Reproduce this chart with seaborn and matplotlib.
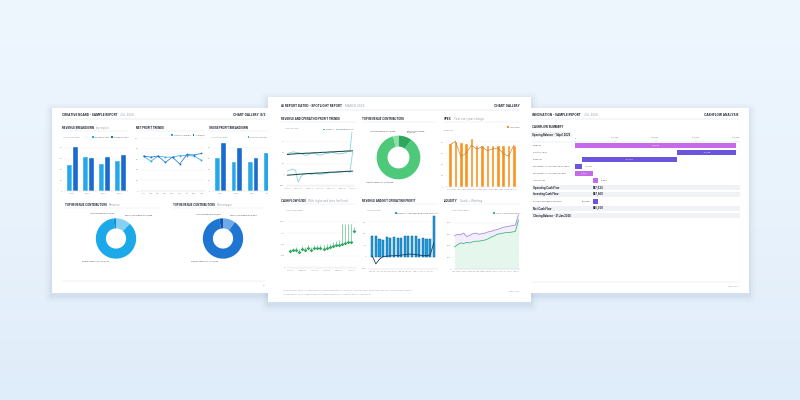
import numpy as np
import pandas as pd
import matplotlib
matplotlib.use("Agg")
import matplotlib.pyplot as plt
from matplotlib.colors import LinearSegmentedColormap
from matplotlib.patches import FancyBboxPatch, Patch
import seaborn as sns

# ---------------- left page data ----------------
rb_years = ["2021", "2022", "2023", "2024"]
rb_light = [51, 66, 53, 58]
rb_dark = [84, 63, 66, 69]
rb_series = ["Revenue 2023", "Revenue 2024"]

np_months = ["Jan", "Feb", "Mar", "Apr", "May", "Jun", "Jul", "Aug", "Sep"]
np_light = [66, 56, 66, 64, 64, 67, 67, 66, 58]
np_dark = [66, 64, 66, 54, 64, 51, 69, 68, 71]
np_series = ["Net Profit Margin", "% Growth"]

gp_years = ["2021", "2022", "2023", "2024"]
gp_light = [64, 56, 56, 72]
gp_dark = [91, 81, 64, 80]
gp_series = ["Gross Profit 2023", "2024"]

d1_labels = ["Recurring Revenue $380,000", "Product Revenue $2,960,000", "Service Revenue $90,000"]
d1_values = [12, 86, 2]
d2_labels = ["Recurring Revenue $410,000", "Product Revenue $3,420,000", "Service Revenue $120,000"]
d2_values = [10, 87, 3]

# ---------------- centre page data ----------------
p1_months = ["Jan 19", "Feb 19", "Mar 19", "Apr 19", "May 19", "Jun 19", "Jul 19", "Aug 19",
             "Sep 19", "Oct 19", "Nov 19", "Dec 19", "Jan 20", "Feb 20", "Mar 20", "Apr 20",
             "May 20", "Jun 20", "Jul 20", "Aug 20", "Sep 20", "Oct 20", "Nov 20", "Dec 20", "Jan 21"]
p1_rev_trend = [46, 46.5, 47, 47.5, 48, 48, 48.5, 49, 49, 49.5, 50, 50, 50.5, 51, 51, 51.5,
                52, 52, 52.5, 53, 53, 53.5, 54, 54, 54.5]
p1_rev = [48, 50, 52, 51, 50, 49, 45, 44, 47, 49, 48, 46, 44, 46, 48, 49,
          50, 51, 48, 47, 48, 49, 52, 54, 112]
p1_op_trend = [-2, -1.5, -1, -0.5, 0, 0.5, 1, 1.5, 2, 2, 2.5, 3, 3, 3.5, 4, 4.5,
               5, 5, 5.5, 6, 6, 6.5, 7, 7, 7.5]
p1_op = [8, 10, 12, 9, -18, -5, 0, 2, 1, 0, 2, 1, 0, 1, 2, 3,
         4, 5, 4, 5, 6, 7, 6, 5, 52]

top_labels = ["Recurring Revenue\n$520,000", "Product Revenue $4,800,000", "Service Revenue $480,000"]
top_values = [10, 86, 4]

opex_months = ["Mar 24", "Apr 24", "May 24", "Jun 24", "Jul 24", "Aug 24", "Sep 24",
               "Oct 24", "Nov 24", "Dec 24", "Jan 25", "Feb 25", "Mar 25"]
opex_total = [78, 82, 80, 78, 88, 76, 76, 76, 76, 76, 76, 76, 76]
opex_change = [76, 82, 55, 60, 75, 68, 72, 65, 68, 70, 60, 55, 75]

cf_months = ["Oct 19", "Nov 19", "Dec 19", "Jan 20", "Feb 20", "Mar 20", "Apr 20", "May 20",
             "Jun 20", "Jul 20", "Aug 20", "Sep 20", "Oct 20", "Nov 20", "Dec 20", "Jan 21",
             "Feb 21", "Mar 21", "Apr 21", "May 21", "Jun 21", "Jul 21"]
cf_close = [355, 370, 390, 330, 400, 380, 420, 370, 420, 420, 420, 410,
            430, 440, 470, 480, 500, 520, 540, 560, 565, 800]
cf_high = [400, 430, 450, 400, 460, 440, 480, 440, 490, 490, 500, 500,
           510, 520, 560, 580, 600, 960, 960, 960, 960, 880]

rn_months = ["Jan 20", "Feb 20", "Mar 20", "Apr 20", "May 20", "Jun 20", "Jul 20", "Aug 20", "Sep 20",
             "Oct 20", "Nov 20", "Dec 20", "Jan 21", "Feb 21", "Mar 21", "Apr 21", "May 21", "Jun 21"]
rn_revenue = [92, 92, 78, 72, 85, 80, 84, 82, 82, 90, 92, 92, 92, 78, 80, 76, 78, 175]
rn_profit = [5, -30, -10, 2, 3, 5, 5, 6, 8, 10, 12, 12, 10, 8, 5, 6, 8, 60]

lq_months = ["Jan 20", "Feb 20", "Mar 20", "Apr 20", "May 20", "Jun 20", "Jul 20", "Aug 20",
             "Sep 20", "Oct 20", "Nov 20", "Dec 20", "Jan 21", "Feb 21", "Mar 21", "Apr 21",
             "May 21", "Jun 21", "Jul 21", "Aug 21", "Sep 21", "Oct 21"]
lq_quick = [570, 600, 590, 620, 560, 580, 610, 620, 600, 610, 620, 640,
            650, 670, 680, 700, 720, 730, 740, 750, 760, 940]
lq_cash = [380, 420, 450, 440, 460, 450, 470, 480, 480, 490, 500, 520,
           550, 570, 600, 610, 620, 630, 630, 640, 650, 850]

# ---------------- right page data ----------------
cf_items = ["Revenue", "Cost of Sales", "Expenses", "Movement in Accounts Receivable",
            "Movement in Accounts Payable", "Income Tax", "Operating Cash Flow",
            "Investing Cash Flow", "Foreign Exchange Variance", "Net Cash Flow",
            "Closing Balance - 31 Jan 2026"]
cf_from = [0, 80000, 50850, 3480, 0, 8780, np.nan, np.nan, 11430, np.nan, np.nan]
cf_to = [80000, 50850, 3480, 0, 8780, 11430, np.nan, np.nan, 9000, np.nan, np.nan]
cf_text = ["$80,000", "-$29,150", "-$47,370", "-$3,480", "$8,780", "$2,650",
           "$57,533", "$47,600", "-$7,049", "$65,000", ""]
cf_ticks = [0, 20000, 40000, 60000, 80000]
cf_ticklabels = ["0", "$20,000", "$40,000", "$60,000", "$80,000"]

# ---------------- helpers ----------------
W, H = 800, 400
INK = "#1e2531"
GREY = "#9aa0a9"
TICK = "#8c929b"

sns.set_theme(style="white")
plt.rcParams["font.family"] = ["Inter", "DejaVu Sans"]

fig = plt.figure(figsize=(8, 4), dpi=100)


def rect(x0, y0, x1, y1):
    return [x0 / W, 1 - y1 / H, (x1 - x0) / W, (y1 - y0) / H]


def add_page(box, z):
    x0, y0, x1, y1 = box
    ax = fig.add_axes(rect(*box), zorder=z)
    ax.set_xlim(x0, x1)
    ax.set_ylim(y1, y0)
    ax.set_facecolor("white")
    ax.set_xticks([])
    ax.set_yticks([])
    for s in ax.spines.values():
        s.set_visible(False)
    return ax


def add_panel(x0, y0, x1, y1, z):
    ax = fig.add_axes(rect(x0, y0, x1, y1), zorder=z)
    ax.set_facecolor("none")
    ax.tick_params(labelsize=1.6, colors=TICK, length=0, pad=1.2)
    for s in ["top", "right", "left"]:
        ax.spines[s].set_visible(False)
    ax.spines["bottom"].set_color("#d3d7dd")
    ax.spines["bottom"].set_linewidth(0.3)
    ax.grid(axis="y", color="#eceef1", linewidth=0.3)
    ax.set_axisbelow(True)
    return ax


def header(pg, x, y, bold, light, right, xr, y_line):
    t = pg.text(x, y, bold, fontsize=2.2, fontweight="bold", color=INK, va="baseline")
    pg.annotate(light, xy=(1, 0), xycoords=t, xytext=(2, 0), textcoords="offset points",
                fontsize=2.2, color=GREY, va="bottom")
    pg.text(xr, y, right, fontsize=2.2, fontweight="bold", color=INK, ha="right", va="baseline")
    pg.plot([x, xr], [y_line, y_line], color="#d8dbe0", lw=0.35)


def title(pg, x, y, text, sub, x_end):
    t = pg.text(x, y, text, fontsize=2.0, fontweight="bold", color=INK, va="baseline")
    if sub:
        pg.annotate(sub, xy=(1, 0), xycoords=t, xytext=(1.5, 0), textcoords="offset points",
                    fontsize=2.0, color=GREY, va="bottom")
    pg.plot([x, x_end], [y + 2.2, y + 2.2], color="#e1e4e8", lw=0.3)


def mini_legend(ax, names, colors, anchor=(1.0, 1.03)):
    handles = [Patch(facecolor=c, edgecolor="none", label=n) for n, c in zip(names, colors)]
    ax.legend(handles=handles, loc="lower right", bbox_to_anchor=anchor, ncol=len(names),
              frameon=False, fontsize=1.5, handlelength=0.8, handleheight=0.8,
              handletextpad=0.4, columnspacing=0.9, borderaxespad=0, borderpad=0,
              labelcolor="#5b616b")


def units(ax, text):
    ax.text(-0.02, 1.05, text, transform=ax.transAxes, fontsize=1.5, color=TICK, va="bottom")


def donut(ax, values, labels, colors, radius=1.08):
    ax.pie(values, labels=labels, colors=colors, startangle=90, counterclock=False,
           radius=radius, labeldistance=1.2,
           wedgeprops=dict(width=0.5 * radius, edgecolor="none"),
           textprops=dict(fontsize=1.4, color="#4a505a"))
    ax.set_xlim(-1.5, 1.5)
    ax.set_ylim(-1.5, 1.5)
    ax.set_aspect("equal")
    ax.axis("off")


# ---------------- background and shadows ----------------
bg = fig.add_axes([0, 0, 1, 1], zorder=0)
grad = np.linspace(0, 1, 256)[:, None]
bg.imshow(grad, aspect="auto", extent=[0, W, H, 0],
          cmap=LinearSegmentedColormap.from_list("bg", ["#eef6fe", "#e9f3fc", "#dfecf9"]))
bg.set_xlim(0, W)
bg.set_ylim(H, 0)
bg.axis("off")

left_box = (52, 108, 272, 293)
centre_box = (268, 97, 531, 302)
right_box = (527, 108, 749, 293)
for (x0, y0, x1, y1) in [left_box, right_box, centre_box]:
    for pad, a in [(7, 0.025), (4, 0.035), (2, 0.05)]:
        bg.add_patch(FancyBboxPatch((x0, y0 + 2.5), x1 - x0, y1 - y0,
                                    boxstyle=f"round,pad={pad}", fc="#4a6f99", ec="none", alpha=a))

# ================= LEFT PAGE =================
lp = add_page(left_box, 1)
header(lp, 62, 116, "CREATIVE BOARD - SAMPLE REPORT", "JUL 2025", "CHART GALLERY  8/3", 265, 119)
title(lp, 62, 129, "REVENUE BREAKDOWN", "by region", 128)
title(lp, 136, 129, "NET PROFIT TRENDS", "", 204)
title(lp, 209, 129, "GROSS PROFIT BREAKDOWN", "", 272)
title(lp, 65, 206, "TOP REVENUE CONTRIBUTORS", "Revenue", 158)
title(lp, 173, 206, "TOP REVENUE CONTRIBUTORS", "Net margin", 265)
lp.plot([62, 265], [281, 281], color="#dfe2e6", lw=0.3)
lp.text(265, 286, "Pg", fontsize=1.4, color=GREY, ha="right")

blue_l, blue_d = "#25a8e8", "#1a6bd0"

ax = add_panel(64, 141, 128, 191, 2)
df = pd.DataFrame({"year": rb_years * 2, "value": rb_light + rb_dark,
                   "series": [rb_series[0]] * 4 + [rb_series[1]] * 4})
sns.barplot(data=df, x="year", y="value", hue="series", palette=[blue_l, blue_d],
            width=0.72, gap=0, saturation=1, legend=False, ax=ax)
ax.set_ylim(0, 93)
ax.set_yticks([0, 20, 40, 60, 80])
ax.set_xlabel("")
ax.set_ylabel("")
mini_legend(ax, rb_series, [blue_l, blue_d], anchor=(1.0, 1.06))
units(ax, "USD (thousands)")

ax = add_panel(140, 137, 205, 191, 2)
x_np = np.arange(len(np_months))
sns.lineplot(x=x_np, y=np_light, color=blue_l, lw=0.5, marker="o", markersize=1.3,
             markeredgewidth=0, ax=ax)
sns.lineplot(x=x_np, y=np_dark, color=blue_d, lw=0.5, marker="o", markersize=1.3,
             markeredgewidth=0, ax=ax)
ax.set_xticks(x_np)
ax.set_xticklabels(np_months)
ax.set_xlim(-0.5, len(np_months) - 0.5)
ax.set_ylim(0, 102)
ax.set_yticks([0, 20, 40, 60, 80, 100])
mini_legend(ax, np_series, [blue_l, blue_d], anchor=(1.0, 1.02))

ax = add_panel(212, 141, 277, 191, 2)
df = pd.DataFrame({"year": gp_years * 2, "value": gp_light + gp_dark,
                   "series": [gp_series[0]] * 4 + [gp_series[1]] * 4})
sns.barplot(data=df, x="year", y="value", hue="series", palette=[blue_l, blue_d],
            width=0.72, gap=0, saturation=1, legend=False, ax=ax)
ax.set_ylim(0, 93)
ax.set_yticks([0, 20, 40, 60, 80])
ax.set_xlabel("")
ax.set_ylabel("")
mini_legend(ax, gp_series, [blue_l, blue_d], anchor=(1.0, 1.06))
units(ax, "USD (thousands)")

ax = fig.add_axes(rect(88, 211, 144, 266), zorder=2)
donut(ax, d1_values, d1_labels, ["#86d0f3", "#1ca9ea", "#0e8fd0"], radius=1.1)
ax = fig.add_axes(rect(195, 211, 251, 266), zorder=2)
donut(ax, d2_values, d2_labels, ["#6ea9ea", "#1e76d2", "#1458ad"], radius=1.1)

# ================= RIGHT PAGE =================
rp = add_page(right_box, 1)
header(rp, 532, 116, "INNOVATION - SAMPLE REPORT", "JUL 2025", "CASHFLOW ANALYSIS", 739, 119)
rp.text(532, 128, "CASHFLOW SUMMARY", fontsize=2.0, fontweight="bold", color=INK)
rp.add_patch(FancyBboxPatch((531, 132.5), 40, 4, boxstyle="round,pad=0.3",
                            fc="#f4f5f7", ec="#e3e5e9", lw=0.3))
rp.text(532, 135.8, "Opening Balance - 1 April 2025", fontsize=1.9, fontweight="bold", color=INK)
rp.plot([532, 739], [282, 282], color="#dfe2e6", lw=0.3)
rp.text(739, 287, "Page 3 of 3", fontsize=1.4, color=GREY, ha="right")

ax = add_panel(532, 142, 740, 219, 2)
ax.grid(False)
ax.spines["bottom"].set_visible(False)
ax.spines["top"].set_visible(True)
ax.spines["top"].set_color("#dfe2e6")
ax.spines["top"].set_linewidth(0.3)
x_left = -21370
label_side = ["in", "in", "in", "right", "in", "right", None, None, "left", None, None]
for i, item in enumerate(cf_items):
    summary = np.isnan(cf_from[i])
    if summary:
        ax.axhspan(i - 0.42, i + 0.42, color="#f1f2f5", lw=0)
        ax.text(x_left + 300, i, item, fontsize=1.9, fontweight="bold", color=INK, va="center")
        ax.text(9000, i, cf_text[i], fontsize=1.9, fontweight="bold", color=INK, va="center")
        continue
    ax.text(x_left + 300, i, item, fontsize=1.6, color="#5b616b", va="center")
    f, t = cf_from[i], cf_to[i]
    col = "#c56be9" if t > f else "#6a55dc"
    ax.barh(i, t - f, left=f, height=0.8, color=col, lw=0)
    side = label_side[i]
    if side == "in":
        ax.text((f + t) / 2, i, cf_text[i], fontsize=1.4, color="white", ha="center", va="center")
    elif side == "right":
        ax.text(max(f, t) + 1200, i, cf_text[i], fontsize=1.4, color="#4a505a", va="center")
    else:
        ax.text(min(f, t) - 1200, i, cf_text[i], fontsize=1.6, color=INK, ha="right", va="center")
ax.set_xlim(x_left, 81990)
ax.set_ylim(len(cf_items) - 0.5, -0.5)
ax.xaxis.tick_top()
ax.set_xticks(cf_ticks)
ax.set_xticklabels(cf_ticklabels)
ax.tick_params(axis="x", length=1, width=0.3, colors=TICK, labelsize=1.5)
ax.set_yticks([])

# ================= CENTRE PAGE =================
cp = add_page(centre_box, 3)
header(cp, 281, 107, "AI REPORT DATED - SPOTLIGHT REPORT", "MARCH 2025", "CHART GALLERY", 520, 109.5)
title(cp, 281, 120, "REVENUE AND OPERATING PROFIT TRENDS", "", 355)
title(cp, 362, 120, "TOP REVENUE CONTRIBUTORS", "", 437)
title(cp, 444, 120, "OPEX", "Year over year change", 520)
title(cp, 281, 202, "CASH FLOW (USD)", "With highs and lows (millions)", 355)
title(cp, 362, 202, "REVENUE AND NET OPERATING PROFIT", "", 437)
title(cp, 444, 202, "LIQUIDITY", "Quick + Working", 520)
cp.text(283, 291, "The figures shown are for illustration purposes only and were generated from sample data. "
        "Chart Gallery reports are produced automatically from connected data sources.",
        fontsize=1.15, color=GREY)
cp.text(283, 294, "This report was built using sample data and is not intended to represent any "
        "real company, person or financial result.", fontsize=1.15, color=GREY)
cp.text(519, 292, "Page 2 of 8", fontsize=1.4, color=GREY, ha="right")

teal_d, teal_l = "#1b4a50", "#86d6d6"
ax = add_panel(286, 132, 354, 186, 4)
x1 = np.arange(len(p1_months))
sns.lineplot(x=x1, y=p1_rev, color=teal_l, lw=0.6, ax=ax)
sns.lineplot(x=x1, y=p1_op, color=teal_l, lw=0.6, ax=ax)
sns.lineplot(x=x1, y=p1_rev_trend, color=teal_d, lw=0.75, ax=ax)
sns.lineplot(x=x1, y=p1_op_trend, color=teal_d, lw=0.75, ax=ax)
ax.set_xlim(-0.5, len(p1_months) - 0.5)
ax.set_ylim(-27, 98)
ax.set_yticks([-25, 0, 25, 50, 75])
ax.set_xticks(x1[::4])
ax.set_xticklabels(p1_months[::4])
mini_legend(ax, ["Revenue", "Operating Profit"], ["#46bcbc", teal_l])
units(ax, "USD (millions)")

ax = fig.add_axes(rect(370, 129, 427, 186), zorder=4)
donut(ax, top_values, top_labels, ["#2ea85a", "#4dc979", "#8fdfaa"], radius=1.15)

orange = "#f7941d"
ax = add_panel(445, 134, 519, 187, 4)
sns.barplot(x=opex_months, y=opex_total, color=orange, width=0.68, saturation=1, ax=ax)
sns.lineplot(x=np.arange(len(opex_months)), y=opex_change, color="#c47a2a", lw=0.45, ax=ax)
ax.set_ylim(0, 95)
ax.set_yticks([0, 20, 40, 60, 80])
ax.tick_params(axis="x", labelsize=1.3)
mini_legend(ax, ["Year total"], [orange], anchor=(1.0, 1.12))
units(ax, "Thousand")

green = "#24a457"
ax = add_panel(287, 214, 357, 268, 4)
x4 = np.arange(len(cf_months))
ax.vlines(x4, cf_close, cf_high, color="#4fbf7d", lw=0.45)
sns.scatterplot(x=x4, y=cf_close, color=green, marker="D", s=3.5, linewidth=0, ax=ax)
ax.set_xlim(-1, len(cf_months))
ax.set_ylim(-15, 1170)
ax.set_yticks([0, 250, 500, 750, 1000])
ax.set_xticks(x4[::4])
ax.set_xticklabels(cf_months[::4])
units(ax, "USD (thousands)")

ax = add_panel(368, 214, 438, 269, 4)
sns.barplot(x=rn_months, y=rn_revenue, color="#1c9fdc", edgecolor="#0f5f9e", linewidth=0.35,
            width=0.58, saturation=1, ax=ax)
sns.lineplot(x=np.arange(len(rn_months)), y=rn_profit, color="#163a63", lw=0.6, ax=ax)
ax.set_ylim(-52, 185)
ax.set_yticks([-50, 0, 50, 100, 150])
ax.set_xticks(np.arange(len(rn_months))[::2])
ax.set_xticklabels(rn_months[::2])
ax.tick_params(axis="x", labelsize=1.3)
mini_legend(ax, ["Revenue + Net Operating Profit (millions)"], ["#1c9fdc"], anchor=(1.0, 1.0))
units(ax, "USD (millions)")

purple, green2 = "#a986e4", "#3dba7c"
ax = add_panel(453, 214, 520, 269, 4)
x6 = np.arange(len(lq_months))
ax.fill_between(x6, lq_cash, lq_quick, color="#f3eefc", lw=0)
ax.fill_between(x6, 0, lq_cash, color="#e5f6ec", lw=0)
sns.lineplot(x=x6, y=lq_quick, color=purple, lw=0.6, ax=ax)
sns.lineplot(x=x6, y=lq_cash, color=green2, lw=0.6, ax=ax)
ax.set_xlim(-0.5, len(lq_months) - 0.5)
ax.set_ylim(0, 950)
ax.set_yticks([0, 200, 400, 600, 800])
ax.set_xticks(x6[::2])
ax.set_xticklabels(lq_months[::2])
ax.tick_params(axis="x", labelsize=1.3)
mini_legend(ax, ["Cash & Cash Equivalents"], [green2], anchor=(1.0, 1.0))
units(ax, "USD (thousands)")

fig.savefig("out.png", dpi=100)
